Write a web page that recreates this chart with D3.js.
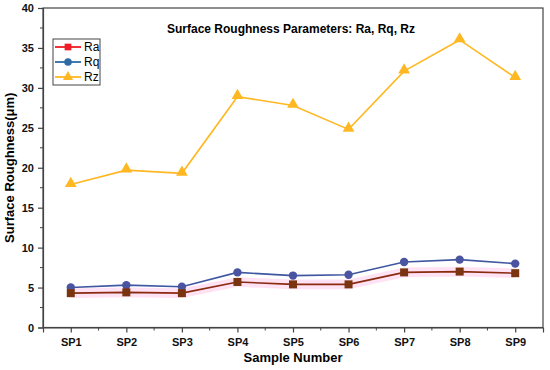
<!DOCTYPE html>
<html>
<head>
<meta charset="utf-8">
<script src="https://cdn.jsdelivr.net/npm/d3@7"></script>
<style>
  body { margin: 0; background: #fff; }
  text { font-family: "Liberation Sans", Arial, sans-serif; }
  .tick text { font-weight: bold; font-size: 11px; fill: #111; }
</style>
</head>
<body>
<div class="chart"></div>
<script>
var samples = ["SP1", "SP2", "SP3", "SP4", "SP5", "SP6", "SP7", "SP8", "SP9"];
var ra = [4.3, 4.4, 4.3, 5.7, 5.4, 5.4, 6.9, 7.0, 6.8];
var rq = [5.0, 5.3, 5.1, 6.9, 6.5, 6.6, 8.2, 8.5, 8.0];
var rz = [17.9, 19.7, 19.3, 28.9, 27.8, 24.8, 32.1, 36.0, 31.3];
var yTicks = [0, 5, 10, 15, 20, 25, 30, 35, 40];

var width = 550
var height = 370
var plotLeft = 43, plotRight = 543, plotTop = 8, plotBottom = 327.5

var svg = d3.select(".chart").append("svg")
            .attr("width", width)
            .attr("height", height);

var x = d3.scalePoint().domain(samples).range([plotLeft, plotRight]).padding(0.5);
var y = d3.scaleLinear().domain([0, 40]).range([plotBottom, plotTop]);
var step = x.step();

// pink band round Ra
var band = d3.area()
             .x(function(d, i) { return x(samples[i]); })
             .y0(function(d) { return y(d - 0.6); })
             .y1(function(d) { return y(d + 0.6); });
svg.append("path")
   .datum(ra)
   .attr("d", band)
   .attr("fill", "#ffd6ee")
   .attr("opacity", 0.7);

// frame
svg.append("rect")
   .attr("x", plotLeft).attr("y", plotTop)
   .attr("width", plotRight - plotLeft).attr("height", plotBottom - plotTop)
   .attr("fill", "none").attr("stroke", "#444").attr("stroke-width", 1.2);

// y axis
var yAxis = svg.append("g")
               .attr("transform", "translate(" + plotLeft + ",0)")
               .call(d3.axisLeft(y).tickValues(yTicks).tickSize(5).tickPadding(4));
yAxis.select(".domain").attr("stroke", "#444").attr("stroke-width", 1.2);
yAxis.selectAll(".tick line").attr("stroke", "#444").attr("stroke-width", 1.2);

for (var v = 2.5; v < 40; v = v + 5) {
  svg.append("line")
     .attr("x1", plotLeft - 3).attr("x2", plotLeft)
     .attr("y1", y(v)).attr("y2", y(v))
     .attr("stroke", "#444").attr("stroke-width", 1);
}

// x axis
var xAxis = svg.append("g")
               .attr("transform", "translate(0," + plotBottom + ")")
               .call(d3.axisBottom(x).tickSize(5).tickPadding(6));
xAxis.select(".domain").attr("stroke", "#444").attr("stroke-width", 1.2);
xAxis.selectAll(".tick line").attr("stroke", "#444").attr("stroke-width", 1.2);

samples.forEach(function(s, i) {
  if (i < samples.length - 1) {
    svg.append("line")
       .attr("x1", x(s) + step / 2).attr("x2", x(s) + step / 2)
       .attr("y1", plotBottom).attr("y2", plotBottom + 3)
       .attr("stroke", "#444").attr("stroke-width", 1);
  }
});

var line = d3.line()
             .x(function(d, i) { return x(samples[i]); })
             .y(function(d) { return y(d); });

// Rz
svg.append("path").datum(rz).attr("d", line)
   .attr("fill", "none").attr("stroke", "#ffb822").attr("stroke-width", 1.6);
svg.selectAll(".rz").data(rz).enter().append("path")
   .attr("class", "rz")
   .attr("d", d3.symbol().type(d3.symbolTriangle).size(60))
   .attr("transform", function(d, i) { return "translate(" + x(samples[i]) + "," + (y(d) - 1) + ")"; })
   .attr("fill", "#ffb822");

// Rq
svg.append("path").datum(rq).attr("d", line)
   .attr("fill", "none").attr("stroke", "#3f57a0").attr("stroke-width", 1.6);
svg.selectAll(".rq").data(rq).enter().append("circle")
   .attr("class", "rq")
   .attr("cx", function(d, i) { return x(samples[i]); })
   .attr("cy", function(d) { return y(d); })
   .attr("r", 4.2)
   .attr("fill", "#4a54a0");

// Ra
svg.append("path").datum(ra).attr("d", line)
   .attr("fill", "none").attr("stroke", "#8a2a10").attr("stroke-width", 1.6);
svg.selectAll(".ra").data(ra).enter().append("rect")
   .attr("class", "ra")
   .attr("x", function(d, i) { return x(samples[i]) - 4; })
   .attr("y", function(d) { return y(d) - 4; })
   .attr("width", 8).attr("height", 8)
   .attr("fill", "#7a3510");

// legend
var legendItems = [
  { name: "Ra", color: "#ee1c25", shape: "square" },
  { name: "Rq", color: "#2e6aa6", shape: "circle" },
  { name: "Rz", color: "#ffb822", shape: "triangle" }
];
var legend = svg.append("g").attr("transform", "translate(53,39)");
legend.append("rect")
      .attr("width", 47).attr("height", 46)
      .attr("fill", "#fff").attr("stroke", "#444").attr("stroke-width", 1);
legendItems.forEach(function(d, i) {
  var ly = 8 + i * 15;
  legend.append("line")
        .attr("x1", 2).attr("x2", 28).attr("y1", ly).attr("y2", ly)
        .attr("stroke", d.color).attr("stroke-width", 1.8);
  var sym = d.shape === "square" ? d3.symbolSquare : (d.shape === "circle" ? d3.symbolCircle : d3.symbolTriangle);
  legend.append("path")
        .attr("d", d3.symbol().type(sym).size(45))
        .attr("transform", "translate(15," + ly + ")")
        .attr("fill", d.color);
  legend.append("text")
        .attr("x", 31).attr("y", ly + 4)
        .attr("font-size", 12)
        .text(d.name);
});

// title and labels
svg.append("text")
   .attr("x", 291).attr("y", 33)
   .attr("text-anchor", "middle")
   .attr("font-size", 12).attr("font-weight", "bold")
   .text("Surface Roughness Parameters: Ra, Rq, Rz");

svg.append("text")
   .attr("x", (plotLeft + plotRight) / 2).attr("y", 362)
   .attr("text-anchor", "middle")
   .attr("font-size", 13).attr("font-weight", "bold")
   .text("Sample Number");

svg.append("text")
   .attr("transform", "translate(14," + ((plotTop + plotBottom) / 2) + ") rotate(-90)")
   .attr("text-anchor", "middle")
   .attr("font-size", 13).attr("font-weight", "bold")
   .text("Surface Roughness(μm)");
</script>
</body>
</html>
